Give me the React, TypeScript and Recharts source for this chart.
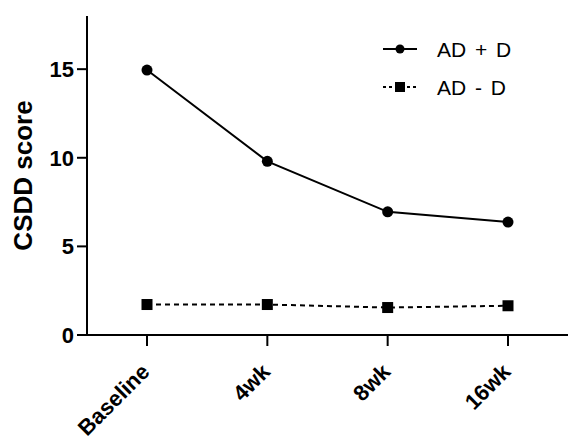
import React from 'react';
import { LineChart, Line, XAxis, YAxis } from 'recharts';

const timepoints = ['Baseline', '4wk', '8wk', '16wk'];
const adPlusD = [14.95, 9.8, 6.95, 6.37];
const adMinusD = [1.72, 1.72, 1.55, 1.65];
const yTicks = [0, 5, 10, 15];

const data = timepoints.map((t, i) => ({ t, plus: adPlusD[i], minus: adMinusD[i] }));

const font = 'Liberation Sans, Arial, Helvetica, sans-serif';

const XTick = (props: any) => {
  const { x, payload } = props;
  return (
    <g transform={`translate(${x + 4}, ${373})`}>
      <text
        x={0}
        y={0}
        textAnchor="end"
        transform="rotate(-45)"
        fontFamily={font}
        fontWeight="bold"
        fontSize={22}
        fill="#000"
      >
        {payload.value}
      </text>
    </g>
  );
};

const LegendBox = () => (
  <svg width={190} height={80}>
    <g>
      <line x1={6} y1={12} x2={40} y2={12} stroke="#000" strokeWidth={2} />
      <circle cx={23} cy={12} r={4.5} fill="#000" />
      <text x={60} y={12} dy="0.36em" fontFamily={font} fontSize={21} wordSpacing={3} fill="#000">
        AD + D
      </text>
    </g>
    <g>
      <line x1={6} y1={50} x2={40} y2={50} stroke="#000" strokeWidth={2} strokeDasharray="3 3" />
      <rect x={18} y={45} width={10} height={10} fill="#000" />
      <text x={60} y={50} dy="0.36em" fontFamily={font} fontSize={21} wordSpacing={3} fill="#000">
        AD - D
      </text>
    </g>
  </svg>
);

export default function App() {
  return (
    <div style={{ position: 'absolute', left: 0, top: 0, width: 568, height: 438, background: '#fff' }}>
      <LineChart width={568} height={438} data={data} margin={{ top: 16, right: 0, bottom: 0, left: 0 }}>
        <XAxis
          dataKey="t"
          padding={{ left: 60, right: 60 }}
          axisLine={{ stroke: '#000', strokeWidth: 2 }}
          tickLine={{ stroke: '#000', strokeWidth: 2 }}
          tickSize={11}
          height={103}
          interval={0}
          tick={<XTick />}
        />
        <YAxis
          domain={[0, 18]}
          ticks={yTicks}
          width={87}
          axisLine={{ stroke: '#000', strokeWidth: 2 }}
          tickLine={{ stroke: '#000', strokeWidth: 2 }}
          tickSize={10}
          tickMargin={3}
          tick={{ fill: '#000', fontFamily: font, fontWeight: 'bold', fontSize: 22 }}
          label={{
            value: 'CSDD score',
            angle: -90,
            position: 'center',
            dx: -21,
            style: { fill: '#000', fontFamily: font, fontWeight: 'bold', fontSize: 26 },
          }}
        />
        <Line
          dataKey="plus"
          stroke="#000"
          strokeWidth={2}
          dot={{ r: 5.5, fill: '#000', stroke: '#000', strokeWidth: 0 }}
          isAnimationActive={false}
        />
        <Line
          dataKey="minus"
          stroke="#000"
          strokeWidth={2}
          strokeDasharray="5 4"
          dot={(p: any) => (
            <rect key={p.index} x={p.cx - 5.5} y={p.cy - 5.5} width={11} height={11} fill="#000" />
          )}
          isAnimationActive={false}
        />
      </LineChart>
      <div style={{ position: 'absolute', left: 377, top: 37 }}>
        <LegendBox />
      </div>
    </div>
  );
}
